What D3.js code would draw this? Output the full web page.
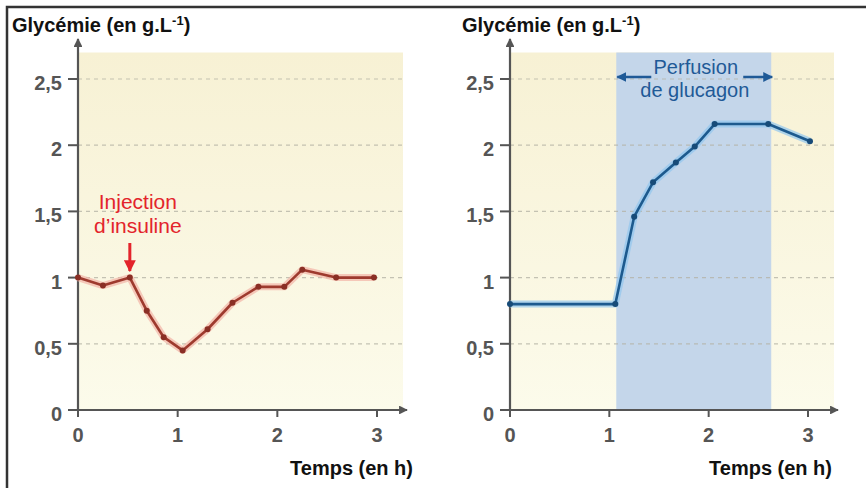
<!DOCTYPE html>
<html>
<head>
<meta charset="utf-8">
<script src="https://cdn.jsdelivr.net/npm/d3@7"></script>
<style>
  html, body { margin: 0; padding: 0; background: #ffffff; }
  svg { display: block; font-family: "Liberation Sans", Arial, sans-serif; }
</style>
</head>
<body>
<svg id="chart" width="866" height="488"></svg>
<script>
// ---- Data ----
const yTicks = [0, 0.5, 1, 1.5, 2, 2.5];
const yTickLabels = ["0", "0,5", "1", "1,5", "2", "2,5"];
const xTicks = [0, 1, 2, 3];
const xTickLabels = ["0", "1", "2", "3"];

const insulinTime = [0, 0.25, 0.52, 0.69, 0.86, 1.05, 1.30, 1.55, 1.81, 2.07, 2.25, 2.59, 2.97];
const insulinGly  = [1.0, 0.94, 1.0, 0.75, 0.55, 0.45, 0.61, 0.81, 0.93, 0.93, 1.06, 1.0, 1.0];
const injectionTime = 0.52;

const glucagonTime = [0, 1.06, 1.25, 1.44, 1.67, 1.86, 2.06, 2.60, 3.02];
const glucagonGly  = [0.8, 0.8, 1.46, 1.72, 1.87, 1.99, 2.16, 2.16, 2.03];
const perfusionStart = 1.07;
const perfusionEnd = 2.63;

const yTitle = "Glycémie (en g.L";
const xTitle = "Temps (en h)";

// ---- Drawing ----
const svg = d3.select("#chart");
const defs = svg.append("defs");

const grad = defs.append("linearGradient").attr("id", "bgGrad")
  .attr("x1", 0).attr("y1", 0).attr("x2", 0).attr("y2", 1);
grad.append("stop").attr("offset", "0%").attr("stop-color", "#f7f1d4");
grad.append("stop").attr("offset", "100%").attr("stop-color", "#fcfbeb");

function arrowMarker(id, color) {
  defs.append("marker").attr("id", id)
    .attr("viewBox", "0 0 10 10").attr("refX", 9).attr("refY", 5)
    .attr("markerWidth", 4).attr("markerHeight", 4).attr("orient", "auto-start-reverse")
    .attr("markerUnits", "strokeWidth")
    .append("path").attr("d", "M0,0 L10,5 L0,10 Z").attr("fill", color);
}
arrowMarker("axisArrow", "#555");
arrowMarker("redArrow", "#e3242b");
arrowMarker("blueArrow", "#1f5a97");

const y = d3.scaleLinear().domain([0, 2.5]).range([410, 79]);
const yTop = 2.7;

function panel(opt) {
  const g = svg.append("g");
  const x = d3.scaleLinear().domain([0, 3]).range(opt.xRange);
  const x0 = x(0), xEnd = opt.bgRight;

  // background
  g.append("rect").attr("x", x0).attr("y", y(yTop))
    .attr("width", xEnd - x0).attr("height", y(0) - y(yTop))
    .attr("fill", "url(#bgGrad)");

  if (opt.band) {
    g.append("rect").attr("x", x(opt.band[0])).attr("y", y(yTop))
      .attr("width", x(opt.band[1]) - x(opt.band[0])).attr("height", y(0) - y(yTop))
      .attr("fill", "#c4d6ea");
  }

  // grid
  g.selectAll(".grid").data(yTicks.slice(1)).enter().append("line")
    .attr("x1", x0).attr("x2", xEnd)
    .attr("y1", d => y(d)).attr("y2", d => y(d))
    .attr("stroke", "#b3b1a4").attr("stroke-width", 1.2)
    .attr("stroke-dasharray", "4,4").attr("opacity", 0.75);

  // y axis ticks and labels
  g.selectAll(".yt").data(yTicks).enter().append("line")
    .attr("x1", x0 - 10).attr("x2", x0)
    .attr("y1", d => y(d)).attr("y2", d => y(d))
    .attr("stroke", "#555").attr("stroke-width", 2);
  g.selectAll(".yl").data(yTicks).enter().append("text")
    .attr("x", x0 - 16).attr("y", d => y(d) + 4)
    .attr("text-anchor", "end").attr("dominant-baseline", "central")
    .attr("font-size", 20).attr("font-weight", "bold").attr("fill", "#555")
    .text((d, i) => yTickLabels[i]);

  // x axis ticks and labels
  g.selectAll(".xt").data(xTicks).enter().append("line")
    .attr("x1", d => x(d)).attr("x2", d => x(d))
    .attr("y1", y(0)).attr("y2", y(0) + 7)
    .attr("stroke", "#555").attr("stroke-width", 2);
  g.selectAll(".xl").data(xTicks).enter().append("text")
    .attr("x", d => x(d)).attr("y", y(0) + 25)
    .attr("text-anchor", "middle").attr("dominant-baseline", "central")
    .attr("font-size", 20).attr("font-weight", "bold").attr("fill", "#555")
    .text((d, i) => xTickLabels[i]);

  // axes lines with arrows
  g.append("line").attr("x1", x0).attr("x2", x0)
    .attr("y1", y(0)).attr("y2", 39)
    .attr("stroke", "#555").attr("stroke-width", 2.2)
    .attr("marker-end", "url(#axisArrow)");
  g.append("line").attr("x1", x0).attr("x2", xEnd + 4)
    .attr("y1", y(0)).attr("y2", y(0))
    .attr("stroke", "#555").attr("stroke-width", 2.2)
    .attr("marker-end", "url(#axisArrow)");

  // line
  const pts = opt.times.map((t, i) => [t, opt.vals[i]]);
  const line = d3.line().x(d => x(d[0])).y(d => y(d[1]));
  g.append("path").datum(pts).attr("d", line)
    .attr("fill", "none").attr("stroke", opt.halo).attr("stroke-width", 7)
    .attr("stroke-linejoin", "round").attr("opacity", 0.7);
  g.append("path").datum(pts).attr("d", line)
    .attr("fill", "none").attr("stroke", opt.color).attr("stroke-width", 2.6)
    .attr("stroke-linejoin", "round");
  g.selectAll(".pt").data(pts).enter().append("circle")
    .attr("cx", d => x(d[0])).attr("cy", d => y(d[1])).attr("r", 3)
    .attr("fill", opt.dot);

  // titles
  const t = g.append("text").attr("x", opt.titleX).attr("y", 32)
    .attr("font-size", 20).attr("font-weight", "bold").attr("fill", "#111");
  t.append("tspan").text(yTitle);
  t.append("tspan").attr("font-size", 13).attr("dy", -7).text("-1");
  t.append("tspan").attr("dy", 7).text(")");

  g.append("text").attr("x", opt.xTitleX).attr("y", 475)
    .attr("text-anchor", "end")
    .attr("font-size", 20).attr("font-weight", "bold").attr("fill", "#111")
    .text(xTitle);

  return x;
}

const xL = panel({
  xRange: [78, 377], bgRight: 403, times: insulinTime, vals: insulinGly,
  color: "#9e3a2e", halo: "#f2b3a6", dot: "#8a2f25",
  titleX: 12, xTitleX: 413
});
const xR = panel({
  xRange: [510, 808], bgRight: 834, times: glucagonTime, vals: glucagonGly,
  color: "#1d5a8e", halo: "#92c6ee", dot: "#174b78", band: [perfusionStart, perfusionEnd],
  titleX: 462, xTitleX: 832
});

// Injection annotation
const ix = xL(injectionTime);
svg.append("text").attr("x", ix + 8).attr("y", 209).attr("text-anchor", "middle")
  .attr("font-size", 21).attr("fill", "#e3242b").text("Injection");
svg.append("text").attr("x", ix + 8).attr("y", 233).attr("text-anchor", "middle")
  .attr("font-size", 21).attr("fill", "#e3242b").text("d\u2019insuline");
svg.append("line").attr("x1", ix).attr("x2", ix).attr("y1", 243).attr("y2", 271)
  .attr("stroke", "#e3242b").attr("stroke-width", 3)
  .attr("marker-end", "url(#redArrow)");

// Perfusion annotation
const pa = xR(perfusionStart), pb = xR(perfusionEnd);
const pc = (pa + pb) / 2;
svg.append("text").attr("x", pc + 2).attr("y", 74).attr("text-anchor", "middle")
  .attr("font-size", 20).attr("fill", "#1f5a97").text("Perfusion");
svg.append("text").attr("x", pc + 1).attr("y", 97).attr("text-anchor", "middle")
  .attr("font-size", 20).attr("fill", "#1f5a97").text("de glucagon");
svg.append("line").attr("x1", pa + 35).attr("x2", pa + 1).attr("y1", 77).attr("y2", 77)
  .attr("stroke", "#1f5a97").attr("stroke-width", 2.5)
  .attr("marker-end", "url(#blueArrow)");
svg.append("line").attr("x1", pb - 28).attr("x2", pb + 1).attr("y1", 77).attr("y2", 77)
  .attr("stroke", "#1f5a97").attr("stroke-width", 2.5)
  .attr("marker-end", "url(#blueArrow)");

// Frame (top and left)
svg.append("path").attr("d", "M7,488 L7,7 L866,7")
  .attr("fill", "none").attr("stroke", "#333").attr("stroke-width", 2.5);
</script>
</body>
</html>
